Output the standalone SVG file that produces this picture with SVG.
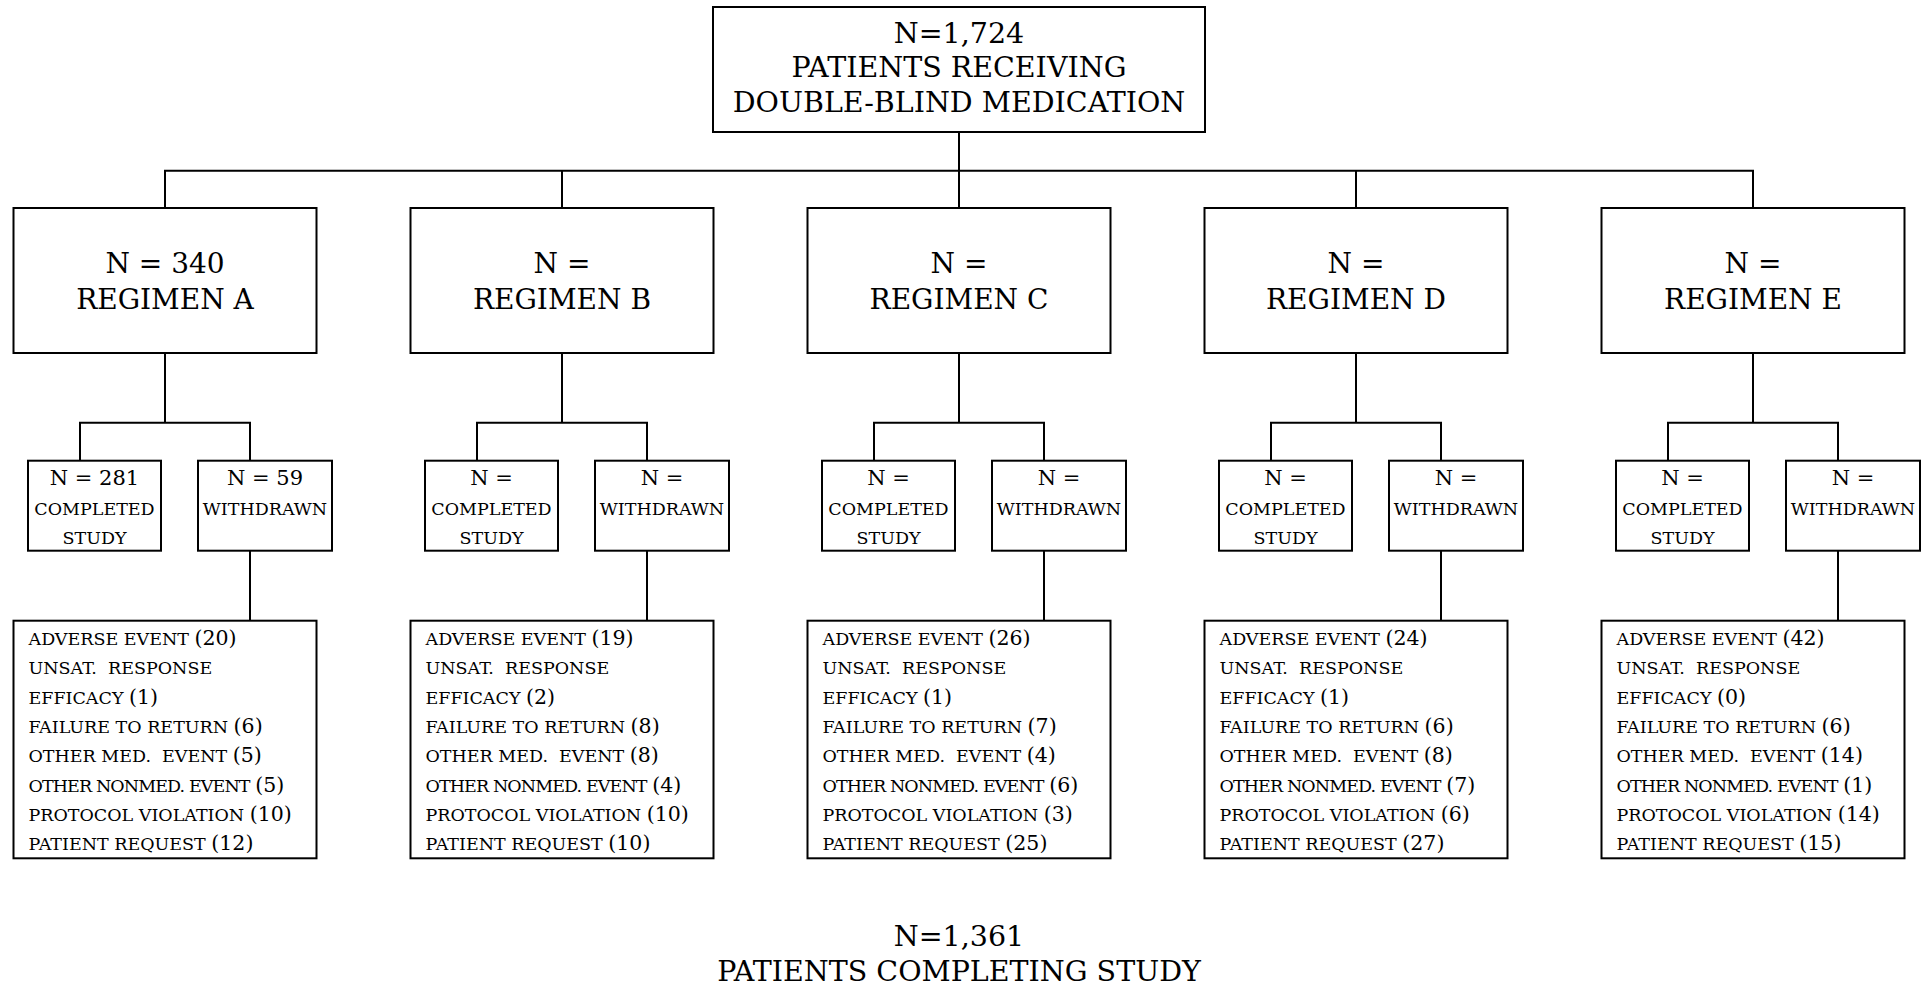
<svg xmlns="http://www.w3.org/2000/svg" width="1928" height="986" viewBox="0 0 1928 986">
<style>
.box{fill:#fff;stroke:#000;stroke-width:2}
.ln{fill:none;stroke:#000;stroke-width:2}
text{font-family:"DejaVu Serif","Liberation Serif",serif;fill:#000;white-space:pre}
.big{font-size:28.5px;text-anchor:middle}
.reg{font-size:28px;text-anchor:middle}
.sn{font-size:21px;text-anchor:middle}
.sw{font-size:17.5px;text-anchor:middle}
.lw{font-size:17.5px}
.num{font-size:20.5px}
.cond{letter-spacing:-0.9px}
</style>
<g id="connectors">
<path class="ln" d="M959 132V208M165 208V170.7H1753V208M562 170.7V208M1356 170.7V208"/>
<path class="ln" d="M165 353V422.7M80 460.7V422.7H250V460.7M250 550.7V620.7"/>
<path class="ln" d="M562 353V422.7M477 460.7V422.7H647V460.7M647 550.7V620.7"/>
<path class="ln" d="M959 353V422.7M874 460.7V422.7H1044V460.7M1044 550.7V620.7"/>
<path class="ln" d="M1356 353V422.7M1271 460.7V422.7H1441V460.7M1441 550.7V620.7"/>
<path class="ln" d="M1753 353V422.7M1668 460.7V422.7H1838V460.7M1838 550.7V620.7"/>
</g>
<g id="top">
<rect class="box" x="713" y="7" width="492" height="125"/>
<text class="big" x="959" y="42.5">N=1,724</text>
<text class="big" x="959" y="77">PATIENTS RECEIVING</text>
<text class="big" x="959" y="111.5">DOUBLE-BLIND MEDICATION</text>
</g>
<g id="regA">
<rect class="box" x="13.5" y="208" width="303" height="145"/>
<text class="reg" x="165" y="272.7">N = 340</text>
<text class="reg" x="165" y="308.5">REGIMEN A</text>
</g>
<g id="regB">
<rect class="box" x="410.5" y="208" width="303" height="145"/>
<text class="reg" x="562" y="272.7">N =</text>
<text class="reg" x="562" y="308.5">REGIMEN B</text>
</g>
<g id="regC">
<rect class="box" x="807.5" y="208" width="303" height="145"/>
<text class="reg" x="959" y="272.7">N =</text>
<text class="reg" x="959" y="308.5">REGIMEN C</text>
</g>
<g id="regD">
<rect class="box" x="1204.5" y="208" width="303" height="145"/>
<text class="reg" x="1356" y="272.7">N =</text>
<text class="reg" x="1356" y="308.5">REGIMEN D</text>
</g>
<g id="regE">
<rect class="box" x="1601.5" y="208" width="303" height="145"/>
<text class="reg" x="1753" y="272.7">N =</text>
<text class="reg" x="1753" y="308.5">REGIMEN E</text>
</g>
<g id="compA">
<rect class="box" x="28" y="460.7" width="133" height="90"/>
<text class="sn" x="94.5" y="485">N = 281</text>
<text class="sw" x="94.5" y="514.5">COMPLETED</text>
<text class="sw" x="94.5" y="543.5">STUDY</text>
</g>
<g id="wdA">
<rect class="box" x="198" y="460.7" width="134" height="90"/>
<text class="sn" x="265" y="485">N = 59</text>
<text class="sw" x="265" y="514.5">WITHDRAWN</text>
</g>
<g id="compB">
<rect class="box" x="425" y="460.7" width="133" height="90"/>
<text class="sn" x="491.5" y="485">N =</text>
<text class="sw" x="491.5" y="514.5">COMPLETED</text>
<text class="sw" x="491.5" y="543.5">STUDY</text>
</g>
<g id="wdB">
<rect class="box" x="595" y="460.7" width="134" height="90"/>
<text class="sn" x="662" y="485">N =</text>
<text class="sw" x="662" y="514.5">WITHDRAWN</text>
</g>
<g id="compC">
<rect class="box" x="822" y="460.7" width="133" height="90"/>
<text class="sn" x="888.5" y="485">N =</text>
<text class="sw" x="888.5" y="514.5">COMPLETED</text>
<text class="sw" x="888.5" y="543.5">STUDY</text>
</g>
<g id="wdC">
<rect class="box" x="992" y="460.7" width="134" height="90"/>
<text class="sn" x="1059" y="485">N =</text>
<text class="sw" x="1059" y="514.5">WITHDRAWN</text>
</g>
<g id="compD">
<rect class="box" x="1219" y="460.7" width="133" height="90"/>
<text class="sn" x="1285.5" y="485">N =</text>
<text class="sw" x="1285.5" y="514.5">COMPLETED</text>
<text class="sw" x="1285.5" y="543.5">STUDY</text>
</g>
<g id="wdD">
<rect class="box" x="1389" y="460.7" width="134" height="90"/>
<text class="sn" x="1456" y="485">N =</text>
<text class="sw" x="1456" y="514.5">WITHDRAWN</text>
</g>
<g id="compE">
<rect class="box" x="1616" y="460.7" width="133" height="90"/>
<text class="sn" x="1682.5" y="485">N =</text>
<text class="sw" x="1682.5" y="514.5">COMPLETED</text>
<text class="sw" x="1682.5" y="543.5">STUDY</text>
</g>
<g id="wdE">
<rect class="box" x="1786" y="460.7" width="134" height="90"/>
<text class="sn" x="1853" y="485">N =</text>
<text class="sw" x="1853" y="514.5">WITHDRAWN</text>
</g>
<g id="listA">
<rect class="box" x="13.5" y="620.7" width="303" height="237.6"/>
<text class="lw" x="28.5" y="645">ADVERSE EVENT <tspan class="num">(20)</tspan></text>
<text class="lw" x="28.5" y="674.3">UNSAT.  RESPONSE</text>
<text class="lw" x="28.5" y="703.6">EFFICACY <tspan class="num">(1)</tspan></text>
<text class="lw" x="28.5" y="732.9">FAILURE TO RETURN <tspan class="num">(6)</tspan></text>
<text class="lw" x="28.5" y="762.2">OTHER MED.  EVENT <tspan class="num">(5)</tspan></text>
<text class="lw" x="28.5" y="791.5"><tspan class="cond">OTHER NONMED. EVENT</tspan> <tspan class="num">(5)</tspan></text>
<text class="lw" x="28.5" y="820.8">PROTOCOL VIOLATION <tspan class="num">(10)</tspan></text>
<text class="lw" x="28.5" y="850">PATIENT REQUEST <tspan class="num">(12)</tspan></text>
</g>
<g id="listB">
<rect class="box" x="410.5" y="620.7" width="303" height="237.6"/>
<text class="lw" x="425.5" y="645">ADVERSE EVENT <tspan class="num">(19)</tspan></text>
<text class="lw" x="425.5" y="674.3">UNSAT.  RESPONSE</text>
<text class="lw" x="425.5" y="703.6">EFFICACY <tspan class="num">(2)</tspan></text>
<text class="lw" x="425.5" y="732.9">FAILURE TO RETURN <tspan class="num">(8)</tspan></text>
<text class="lw" x="425.5" y="762.2">OTHER MED.  EVENT <tspan class="num">(8)</tspan></text>
<text class="lw" x="425.5" y="791.5"><tspan class="cond">OTHER NONMED. EVENT</tspan> <tspan class="num">(4)</tspan></text>
<text class="lw" x="425.5" y="820.8">PROTOCOL VIOLATION <tspan class="num">(10)</tspan></text>
<text class="lw" x="425.5" y="850">PATIENT REQUEST <tspan class="num">(10)</tspan></text>
</g>
<g id="listC">
<rect class="box" x="807.5" y="620.7" width="303" height="237.6"/>
<text class="lw" x="822.5" y="645">ADVERSE EVENT <tspan class="num">(26)</tspan></text>
<text class="lw" x="822.5" y="674.3">UNSAT.  RESPONSE</text>
<text class="lw" x="822.5" y="703.6">EFFICACY <tspan class="num">(1)</tspan></text>
<text class="lw" x="822.5" y="732.9">FAILURE TO RETURN <tspan class="num">(7)</tspan></text>
<text class="lw" x="822.5" y="762.2">OTHER MED.  EVENT <tspan class="num">(4)</tspan></text>
<text class="lw" x="822.5" y="791.5"><tspan class="cond">OTHER NONMED. EVENT</tspan> <tspan class="num">(6)</tspan></text>
<text class="lw" x="822.5" y="820.8">PROTOCOL VIOLATION <tspan class="num">(3)</tspan></text>
<text class="lw" x="822.5" y="850">PATIENT REQUEST <tspan class="num">(25)</tspan></text>
</g>
<g id="listD">
<rect class="box" x="1204.5" y="620.7" width="303" height="237.6"/>
<text class="lw" x="1219.5" y="645">ADVERSE EVENT <tspan class="num">(24)</tspan></text>
<text class="lw" x="1219.5" y="674.3">UNSAT.  RESPONSE</text>
<text class="lw" x="1219.5" y="703.6">EFFICACY <tspan class="num">(1)</tspan></text>
<text class="lw" x="1219.5" y="732.9">FAILURE TO RETURN <tspan class="num">(6)</tspan></text>
<text class="lw" x="1219.5" y="762.2">OTHER MED.  EVENT <tspan class="num">(8)</tspan></text>
<text class="lw" x="1219.5" y="791.5"><tspan class="cond">OTHER NONMED. EVENT</tspan> <tspan class="num">(7)</tspan></text>
<text class="lw" x="1219.5" y="820.8">PROTOCOL VIOLATION <tspan class="num">(6)</tspan></text>
<text class="lw" x="1219.5" y="850">PATIENT REQUEST <tspan class="num">(27)</tspan></text>
</g>
<g id="listE">
<rect class="box" x="1601.5" y="620.7" width="303" height="237.6"/>
<text class="lw" x="1616.5" y="645">ADVERSE EVENT <tspan class="num">(42)</tspan></text>
<text class="lw" x="1616.5" y="674.3">UNSAT.  RESPONSE</text>
<text class="lw" x="1616.5" y="703.6">EFFICACY <tspan class="num">(0)</tspan></text>
<text class="lw" x="1616.5" y="732.9">FAILURE TO RETURN <tspan class="num">(6)</tspan></text>
<text class="lw" x="1616.5" y="762.2">OTHER MED.  EVENT <tspan class="num">(14)</tspan></text>
<text class="lw" x="1616.5" y="791.5"><tspan class="cond">OTHER NONMED. EVENT</tspan> <tspan class="num">(1)</tspan></text>
<text class="lw" x="1616.5" y="820.8">PROTOCOL VIOLATION <tspan class="num">(14)</tspan></text>
<text class="lw" x="1616.5" y="850">PATIENT REQUEST <tspan class="num">(15)</tspan></text>
</g>
<g id="bottom">
<text class="big" x="959" y="946">N=1,361</text>
<text class="big" x="959" y="981">PATIENTS COMPLETING STUDY</text>
</g>
</svg>
